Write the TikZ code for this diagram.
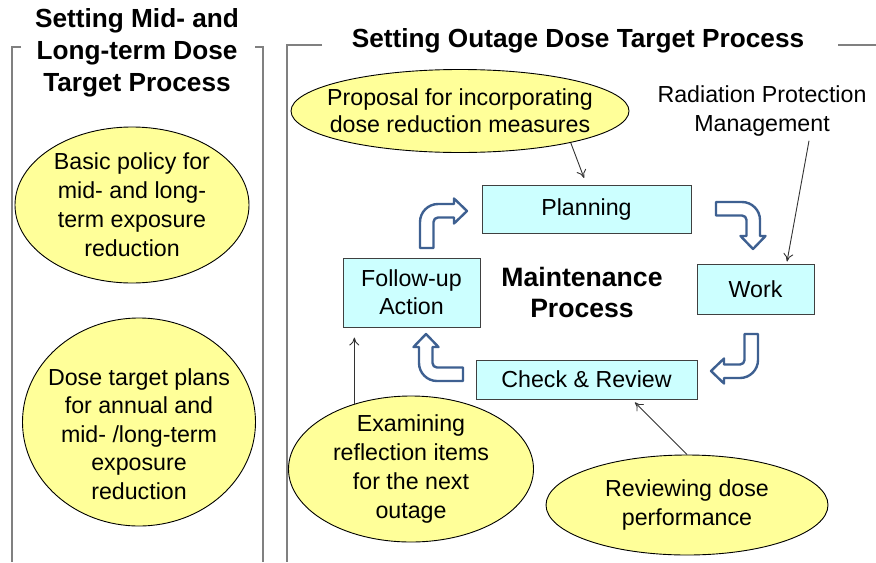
\documentclass[tikz,border=0pt]{standalone}
\usepackage{fontspec}
\setmainfont{Liberation Sans}
\usepackage{tikz}
\usetikzlibrary{arrows, arrows.meta, shapes.geometric}
\usetikzlibrary{positioning}
\usepackage{color}
\definecolor{boxcyan}{RGB}{204,255,255}
\definecolor{bubbleyellow}{RGB}{255,255,153}
\definecolor{flowblue}{RGB}{62,96,145}
\definecolor{framegray}{RGB}{128,128,128}
\tikzset{
	stage/.style={
			rectangle, draw=black!75, fill=boxcyan, line width=0.5pt,
			inner sep=0pt, align=center, font=\fontsize{11.6}{14}\selectfont},
	bubble/.style={
			ellipse, draw=black, fill=bubbleyellow, line width=0.45pt,
			inner sep=-15pt, align=center, font=\fontsize{11.6}{14.5}\selectfont},
	heading/.style={align=center, font=\bfseries\fontsize{13.1}{16}\selectfont},
	frameline/.style={draw=framegray, line width=0.8pt},
	pointer/.style={->, draw=black!80, line width=0.45pt},
	flowline/.style={draw=flowblue, line width=1.2pt, fill=white, line join=round},
	bentarrow/.pic={
			\draw[flowline] (0,44) -- (0,18) .. controls (0,8.1) and (8.1,0) .. (18,0)
				-- (34,0) -- (34,-5.5) -- (47,7) -- (34,19.5) -- (34,13.5) -- (18,13.5)
				.. controls (15.5,13.5) and (13.5,15.5) .. (13.5,18) -- (13.5,44) -- cycle;
		},
}

\begin{document}
\begin{tikzpicture}[x=0.5pt, y=-0.5pt, >={To[length=4pt, width=5pt]}]
		\useasboundingbox (0,0) rectangle (876,562);

		% frames
		\draw[frameline] (21,47) -- (12,47) -- (12,562);
		\draw[frameline] (255,47) -- (263,47) -- (263,562);
		\draw[frameline] (322,45) -- (287,45) -- (287,562);
		\draw[frameline] (838,45) -- (876,45);

		\node[heading] (midlong) at (137,53) {Setting Mid- and\\Long-term Dose\\Target Process};
		\node[heading] (outage) at (578,41) {Setting Outage Dose Target Process};

		% left column
		\node[bubble, minimum width=117pt, minimum height=78pt] (policy) at (132,205)
			{Basic policy for\\mid- and long-\\term exposure\\reduction};
		\node[bubble, minimum width=116.5pt, minimum height=104pt] (plans) at (139,422) {};
		\node[align=center, font=\fontsize{11.6}{14.25}\selectfont] (planstext) at (139,434)
			{Dose target plans\\for annual and\\mid- /long-term\\exposure\\reduction};

		% maintenance cycle
		\node[stage, minimum width=104.5pt, minimum height=24pt] (planning) at (586.5,209) {Planning};
		\node[stage, minimum width=58.5pt, minimum height=25pt] (work) at (755.5,289) {Work};
		\node[stage, minimum width=110.5pt, minimum height=19.5pt] (check) at (586.5,379.5) {Check \& Review};
		\node[stage, minimum width=68.5pt, minimum height=34.5pt] (followup) at (411.5,292.5) {Follow-up\\Action};
		\node[align=center, font=\bfseries\fontsize{13.3}{15.5}\selectfont] (maint) at (582,292)
			{Maintenance\\Process};

		\pic at (420,204) {bentarrow};
		\pic[rotate=-90] at (760,202) {bentarrow};
		\pic[rotate=180] at (758,378) {bentarrow};
		\pic[rotate=90] at (419,381) {bentarrow};

		% inputs
		\node[bubble, minimum width=169pt, minimum height=41.5pt, font=\fontsize{11.6}{13.5}\selectfont] (proposal) at (460,111)
			{Proposal for incorporating\\dose reduction measures};
		\node[align=center, inner sep=0pt, font=\fontsize{11.6}{14.5}\selectfont] (rpm) at (762,111)
			{Radiation Protection\\Management};
		\node[bubble, minimum width=122.5pt, minimum height=73pt] (examining) at (411,469)
			{Examining\\reflection items\\for the next\\outage};
		\node[bubble, minimum width=141pt, minimum height=50pt] (reviewing) at (687,505)
			{Reviewing dose\\performance};

		\draw[pointer, shorten >=3.5pt] (proposal.-16) -- (planning.north);
		\draw[pointer] ([xshift=23.5pt, yshift=-2pt]rpm.south) -- ([xshift=15.75pt, yshift=1pt]work.north);
		\draw[pointer, shorten >=2pt] (reviewing.north) -- ([xshift=22.75pt]check.south);
		\draw[pointer, shorten >=5pt] (examining.131) -- (examining.131 |- followup.south);
%
\end{tikzpicture}
\end{document}
